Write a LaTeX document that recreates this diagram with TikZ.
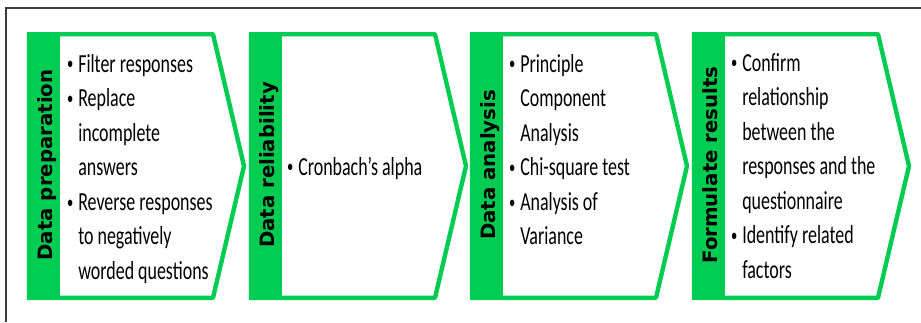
\documentclass[tikz,border=0pt]{standalone}
\usepackage{graphicx}
\usepackage{fontspec}
\setmainfont[FakeStretch=0.69]{Carlito}
\newfontfamily\titlefont[FakeStretch=1.0]{DejaVu Sans}
\definecolor{stepgreen}{RGB}{0,204,82}
\definecolor{framegray}{RGB}{60,60,60}
\newcommand{\bul}{\makebox[12pt][c]{\raisebox{1.6pt}{\scalebox{0.7}{\textbullet}}}}
\newcommand{\ind}{\hspace*{12pt}}
\newcommand{\bodytext}[1]{\parbox[t]{160pt}{\fontsize{19.5}{25.9}\selectfont\raggedright #1}}
\begin{document}
\begin{tikzpicture}[x=0.75pt,y=-0.75pt,
  chevron/.style={draw=stepgreen,line width=3.3pt,fill=white,line join=round},
  strip/.style={fill=stepgreen},
  title/.style={font=\titlefont\bfseries\fontsize{14.8}{16}\selectfont,rotate=90,anchor=base,inner sep=0pt,text=black},
  body/.style={anchor=base west,inner sep=0pt,text=black},
  frameline/.style={draw=framegray,line width=1.5pt}]
\useasboundingbox (0,0) rectangle (921,322);
\draw[frameline] (6,322) -- (6,7.5) -- (921,7.5);
% chevrons
\foreach \xo in {27,249,470,692}{
  \draw[chevron] (\xo+2,34.2) -- (\xo+186,34.2) -- (\xo+217,166) -- (\xo+186,297.8) -- (\xo+2,297.8) -- cycle;
  \fill[strip] (\xo,32) rectangle (\xo+33,300);
}
% titles
\node[title] (t1) at (52,165) {Data preparation};
\node[title] (t2) at (274,165) {Data reliability};
\node[title] (t3) at (495,165) {Data analysis};
\node[title] (t4) at (717,165) {Formulate results};
% bodies
\node[body] (b1) at (62,72) {\bodytext{\bul Filter responses\\\bul Replace\\\ind incomplete\\\ind answers\\\bul Reverse responses\\\ind to negatively\\\ind worded questions}};
\node[body] (b2) at (282,175) {\bodytext{\bul Cronbach's alpha}};
\node[body] (b3) at (504,72) {\bodytext{\bul Principle\\\ind Component\\\ind Analysis\\\bul Chi-square test\\\bul Analysis of\\\ind Variance}};
\node[body] (b4) at (726,71) {\bodytext{\bul Confirm\\\ind relationship\\\ind between the\\\ind responses and the\\\ind questionnaire\\\bul Identify related\\\ind factors}};
\end{tikzpicture}
\end{document}
